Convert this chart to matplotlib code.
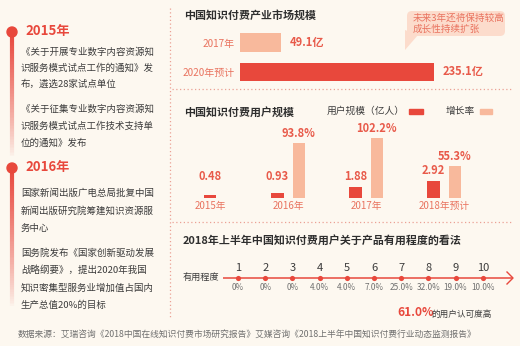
import matplotlib
matplotlib.use("Agg")
import matplotlib.pyplot as plt
import numpy as np
from matplotlib.patches import FancyBboxPatch, Polygon, Rectangle, Circle
from matplotlib.collections import LineCollection

plt.rcParams['font.family'] = ['Noto Sans CJK SC', 'DejaVu Sans']

# ---------------- data ----------------
market_cats = ["2017年", "2020年预计"]
market_vals = [49.1, 235.1]
market_labels = ["49.1亿", "235.1亿"]

user_cats = ["2015年", "2016年", "2017年", "2018年预计"]
user_vals = [0.48, 0.93, 1.88, 2.92]
growth_vals = [None, 93.8, 102.2, 55.3]

useful_levels = [1, 2, 3, 4, 5, 6, 7, 8, 9, 10]
useful_shares = [0, 0, 0, 4.0, 4.0, 7.0, 25.0, 32.0, 19.0, 10.0]

timeline_years = ["2015年", "2016年"]
timeline_paras = [
    [["《关于开展专业数字内容资源知", "识服务模式试点工作的通知》发", "布，遴选28家试点单位"],
     ["《关于征集专业数字内容资源知", "识服务模式试点工作技术支持单", "位的通知》发布"]],
    [["国家新闻出版广电总局批复中国", "新闻出版研究院筹建知识资源服", "务中心"],
     ["国务院发布《国家创新驱动发展", "战略纲要》，提出2020年我国", "知识密集型服务业增加值占国内", "生产总值20%的目标"]],
]
source_text = "数据来源：艾瑞咨询《2018中国在线知识付费市场研究报告》艾媒咨询《2018上半年中国知识付费行业动态监测报告》"

# ---------------- style ----------------
W, H = 520, 346
BG = "#fdf8f0"
RED = "#e8483c"
PEACH = "#f8b99c"
LABEL_RED = "#e85a4a"
CAT_COL = "#e9735f"
DARK = "#2e2e2e"
TXT = "#3c3c3c"
GREY = "#707070"
DOT = "#eba195"

fig = plt.figure(figsize=(W / 100, H / 100), dpi=100, facecolor=BG)


def box(x0, y0, x1, y1):
    return [x0 / W, 1 - y1 / H, (x1 - x0) / W, (y1 - y0) / H]


bg = fig.add_axes([0, 0, 1, 1])
bg.set_xlim(0, W)
bg.set_ylim(H, 0)
bg.axis("off")
bg.set_facecolor(BG)

# ---------------- left timeline ----------------
def fade_line(y0, y1):
    ys = np.linspace(y0, y1, 80)
    segs = [[(12, ys[i]), (12, ys[i + 1])] for i in range(len(ys) - 1)]
    alphas = np.linspace(1, 0, len(segs)) ** 0.8
    cols = [(0.91, 0.28, 0.24, a) for a in alphas]
    bg.add_collection(LineCollection(segs, colors=cols, linewidths=3))

fade_line(32, 158)
fade_line(168, 308)
for yy in (32, 168):
    bg.add_patch(Circle((12, yy), 5, color=RED, zorder=3))

year_y = [31, 167]
para_y = [[[52, 68, 84], [109, 126, 143]],
          [[193, 211, 228], [253, 270, 288, 305]]]
for k in range(2):
    bg.text(25, year_y[k], timeline_years[k], color=RED, fontsize=9.5,
            fontweight="bold", va="center", ha="left")
    for p, lines in enumerate(timeline_paras[k]):
        for j, line in enumerate(lines):
            bg.text(21, para_y[k][p][j], line, color=TXT, fontsize=6.8,
                    va="center", ha="left")

# separators
bg.plot([170, 170], [8, 318], color=DOT, lw=0.9, ls=(0, (1, 2)))
bg.plot([172, 512], [89, 89], color=DOT, lw=0.9, ls=(0, (1, 2)))
bg.plot([172, 512], [222, 222], color=DOT, lw=0.9, ls=(0, (1, 2)))

bg.text(18, 335, source_text, color=GREY, fontsize=6.3, va="center", ha="left")

# ---------------- chart 1: market size ----------------
bg.text(184, 15, "中国知识付费产业市场规模", color=DARK, fontsize=7.9,
        fontweight="bold", va="center", ha="left")

ax1 = fig.add_axes(box(240, 28, 505, 86))
ax1.set_facecolor("none")
ypos = np.arange(len(market_cats))
ax1.barh(ypos, market_vals, height=0.64, color=[PEACH, RED])
ax1.set_xlim(0, 265 / 0.825)
ax1.set_ylim(1 + 14 / 29.5, -14.5 / 29.5)
ax1.set_yticks(ypos, market_cats)
ax1.tick_params(axis="y", length=0, pad=4, labelsize=7.2, labelcolor=CAT_COL)
ax1.set_xticks([])
for s in ax1.spines.values():
    s.set_visible(False)
for i, (v, lab) in enumerate(zip(market_vals, market_labels)):
    ax1.annotate(lab, (v, i), xytext=(6.5, 0), textcoords="offset points",
                 color=LABEL_RED, fontsize=8, fontweight="bold",
                 va="center", ha="left")

# callout bubble
bg.add_patch(FancyBboxPatch((407, 11), 98, 25, boxstyle="round,pad=0,rounding_size=5",
                            fc="#fcdccc", ec="none"))
bg.add_patch(Polygon([(405, 30), (405, 50), (418, 35)], closed=True,
                     fc="#fcdccc", ec="none"))
bg.text(413, 23.5, "未来3年还将保持较高\n成长性持续扩张", color=CAT_COL, fontsize=6.9,
        va="center", ha="left", linespacing=1.15)

# ---------------- chart 2: user scale ----------------
bg.text(184, 112, "中国知识付费用户规模", color=DARK, fontsize=7.9,
        fontweight="bold", va="center", ha="left")
bg.text(327, 111, "用户规模（亿人）", color=TXT, fontsize=7, va="center", ha="left")
bg.add_patch(Rectangle((409, 109), 14, 5, color=RED))
bg.text(446, 111, "增长率", color=TXT, fontsize=7, va="center", ha="left")
bg.add_patch(Rectangle((480, 109), 12, 5, color=PEACH))

ax2 = fig.add_axes(box(180, 120, 510, 198))
ax2.set_facecolor("none")
ax2b = ax2.twinx()
ax2b.set_facecolor("none")
off = 10.75 / 78
bw = 0.165
xs = np.arange(len(user_cats))
for i, (u, g) in enumerate(zip(user_vals, growth_vals)):
    xu = xs[i] - off if g is not None else xs[i]
    ax2.bar(xu, u, width=bw, color=RED)
    ax2.annotate(f"{u:.2f}", (xu, max(u, 1.9)), xytext=(0, 2.8),
                 textcoords="offset points", ha="center", va="bottom",
                 color=LABEL_RED, fontsize=8, fontweight="bold")
    if g is not None:
        xg = xs[i] + off
        ax2b.bar(xg, g, width=bw * 0.93, color=PEACH)
        ax2b.annotate(f"{g:.1f}%", (xg, g), xytext=(0, 2.2),
                      textcoords="offset points", ha="center", va="bottom",
                      color=LABEL_RED, fontsize=8, fontweight="bold")
ax2.set_xlim(-30 / 78, 300 / 78)
ax2.set_ylim(0, 78 / 5.85)
ax2b.set_ylim(0, 78 / 0.585)
ax2.set_xticks(xs, user_cats)
ax2.tick_params(axis="x", length=0, pad=2.5, labelsize=7, labelcolor=CAT_COL)
ax2.set_yticks([])
ax2b.set_yticks([])
for a in (ax2, ax2b):
    for s in a.spines.values():
        s.set_visible(False)

# ---------------- chart 3: usefulness ----------------
bg.text(183, 240, "2018年上半年中国知识付费用户关于产品有用程度的看法", color=DARK,
        fontsize=7.9, fontweight="bold", va="center", ha="left")
bg.text(183, 278, "有用程度", color=TXT, fontsize=6.6, va="center", ha="left")

step = 27.2
ax3 = fig.add_axes(box(223, 262, 513, 294))
ax3.set_facecolor("none")
ax3.set_xlim(1 + (223 - 238) / step, 1 + (513 - 238) / step)
ax3.set_ylim(-1, 1)
ax3.axis("off")
xl = ax3.get_xlim()
ax3.plot([xl[0], xl[1] - 0.03], [0, 0], color=RED, lw=1.1, solid_capstyle="butt")
ax3.scatter(useful_levels, [0] * len(useful_levels), s=14, color=RED, zorder=3, lw=0)
for lv, sh in zip(useful_levels, useful_shares):
    ax3.text(lv, 0.62, str(lv), ha="center", va="center", color=TXT, fontsize=8)
    lab = "0%" if sh == 0 else f"{sh:.1f}%"
    ax3.text(lv, -0.62, lab, ha="center", va="center", color=GREY, fontsize=5.9)
bg.plot([507, 513, 507], [272, 278, 284], color=RED, lw=1.0)

bg.text(397, 313, "61.0%", color=RED, fontsize=8.6, fontweight="bold",
        va="center", ha="left")
bg.text(431, 314, "的用户认可度高", color=TXT, fontsize=6.2, va="center", ha="left")

fig.savefig("out.png", dpi=100, facecolor=BG)
